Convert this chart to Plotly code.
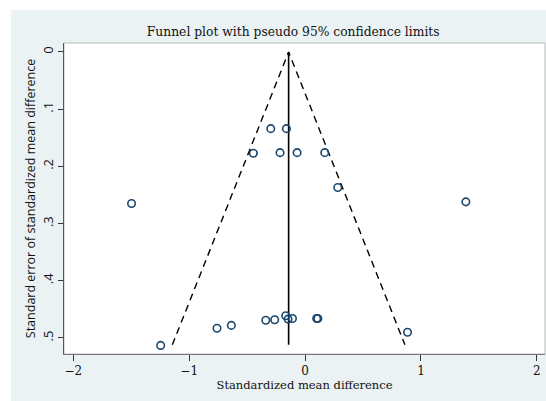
import plotly.graph_objects as go

# Study data
smd = [-0.296, -0.161, -0.446, -0.216, -0.069, 0.170, 0.282, -1.497, 1.387,
       -1.246, -0.760, -0.636, -0.339, -0.262, -0.167, -0.147, -0.109, 0.100, 0.110, 0.884]
se = [0.134, 0.134, 0.177, 0.176, 0.176, 0.176, 0.237, 0.265, 0.262,
      0.513, 0.483, 0.478, 0.469, 0.468, 0.461, 0.467, 0.466, 0.466, 0.466, 0.490]

pooled = -0.142   # pooled estimate (vertical line)
se_max = 0.512    # bottom of the funnel
z95 = 1.96

x_ticks = [-2, -1, 0, 1, 2]
y_ticks = [0, 0.1, 0.2, 0.3, 0.4, 0.5]
y_tick_text = ["0", ".1", ".2", ".3", ".4", ".5"]

BG = "#EAF2F3"
NAVY = "#1a476f"

fig = go.Figure()

# Funnel (pseudo 95% confidence limits)
fig.add_trace(go.Scatter(
    x=[pooled - z95 * se_max, pooled, pooled + z95 * se_max],
    y=[se_max, 0, se_max],
    mode="lines", line=dict(color="black", width=1.4, dash="7px,5px"),
    hoverinfo="skip", showlegend=False))
fig.add_trace(go.Scatter(
    x=[pooled, pooled], y=[0, se_max],
    mode="lines", line=dict(color="black", width=1.6),
    hoverinfo="skip", showlegend=False))

fig.add_trace(go.Scatter(
    x=smd, y=se, mode="markers",
    marker=dict(symbol="circle-open", size=7.5, color=NAVY, line=dict(width=1.6, color=NAVY)),
    showlegend=False))

fig.update_layout(
    width=546, height=401,
    margin=dict(l=64, r=1, t=43, b=47, autoexpand=False),
    paper_bgcolor=BG, plot_bgcolor="white",
    title=dict(text="Funnel plot with pseudo 95% confidence limits",
               font=dict(family="DejaVu Serif", size=12.3, color="#111"),
               x=0.537, xref="container", xanchor="center",
               y=1 - 32 / 401, yref="container", yanchor="middle"),
    xaxis=dict(range=[-2.08, 2.07], tickvals=x_ticks, ticks="outside", ticklen=6,
               tickcolor="#333", showgrid=False, zeroline=False, automargin=False,
               showline=True, linecolor="#777", linewidth=1,
               tickfont=dict(family="DejaVu Serif", size=12, color="#111"),
               title=dict(text="Standardized mean difference", standoff=0,
                          font=dict(family="DejaVu Serif", size=11.5, color="#111"))),
    yaxis=dict(range=[0.528, -0.0157], tickvals=y_ticks, ticktext=y_tick_text,
               ticks="outside", ticklen=5, tickcolor="#333", tickangle=-90,
               showgrid=False, zeroline=False, automargin=False,
               showline=True, linecolor="#555", linewidth=1,
               tickfont=dict(family="Open Sans", size=13, color="#111"),
               title=dict(text="Standard error of standardized mean difference", standoff=0,
                          font=dict(family="Open Sans", size=12.5, color="#111"))),
    shapes=[
        dict(type="rect", xref="paper", yref="paper", x0=0, x1=1, y0=0, y1=1,
             line=dict(color="#bbbbbb", width=1), layer="below"),
        dict(type="rect", xref="paper", yref="paper", x0=-64 / 481, x1=1.01,
             y0=1 + 33 / 311, y1=1 + 45 / 311, fillcolor="white", line=dict(width=0)),
        dict(type="rect", xref="paper", yref="paper", x0=-66 / 481, x1=-53 / 481,
             y0=-0.2, y1=1.2, fillcolor="white", line=dict(width=0)),
    ],
)

fig.write_html("out.html", config={"displayModeBar": False},
               post_script="document.body.style.margin='0';document.body.style.padding='0';")
